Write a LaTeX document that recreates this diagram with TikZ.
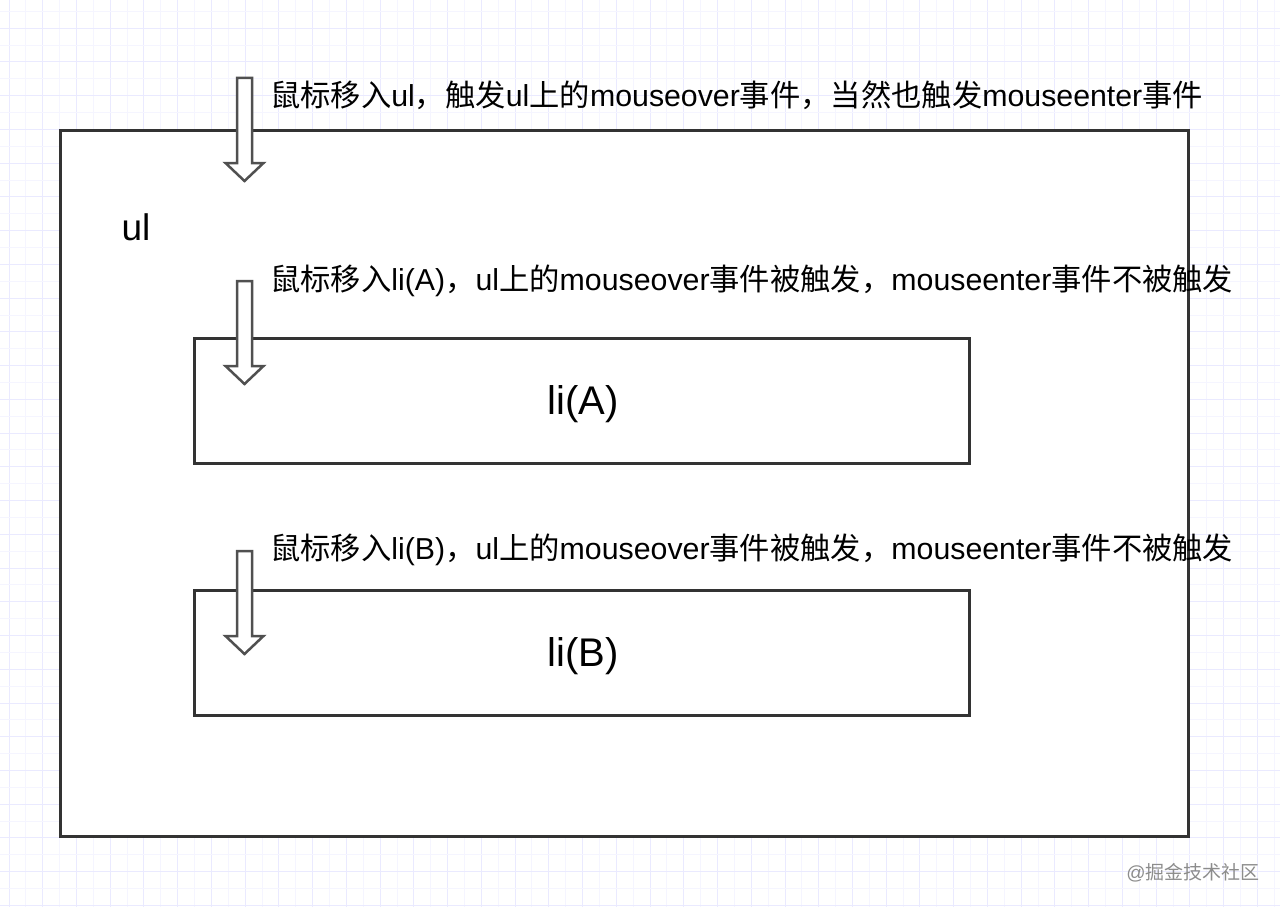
\documentclass[tikz,border=0pt]{standalone}
\usepackage{fontspec}
\setmainfont{Liberation Sans}
\newfontfamily\zhfont{Noto Sans CJK SC}
\newcommand{\zh}[1]{{\zhfont #1}}
\usepackage{tikz}

\definecolor{gridminor}{HTML}{F5F5FF}
\definecolor{gridmajor}{HTML}{EAEAFF}
\definecolor{boxline}{HTML}{333333}
\definecolor{arrowline}{HTML}{505050}
\definecolor{markgray}{HTML}{8C8C8C}

\tikzset{
    box/.style={draw=boxline, line width=3pt, fill=white, inner sep=0pt},
    boxtext/.style={inner sep=0pt, font=\fontsize{40}{44}\selectfont},
    note/.style={anchor=west, inner sep=0pt, font=\fontsize{30.3}{35}\selectfont},
    hollowarrow/.style={draw=arrowline, line width=2.5pt, fill=white, line join=miter}
}

\begin{document}
\begin{tikzpicture}[x=1pt,y=-1pt]
    \useasboundingbox (0,0) rectangle (1280,907);
    \fill[white] (0,0) rectangle (1280,907);

    % background grid
    \foreach \k in {0,...,37} {
        \draw[gridminor, line width=1pt] ({25.87+33.74*\k},0) -- ({25.87+33.74*\k},907);
        \draw[gridmajor, line width=1pt] ({9+33.74*\k},0) -- ({9+33.74*\k},907);
    }
    \foreach \k in {0,...,26} {
        \draw[gridminor, line width=1pt] (0,{11.35+33.74*\k}) -- (1280,{11.35+33.74*\k});
        \draw[gridmajor, line width=1pt] (0,{28.2+33.74*\k}) -- (1280,{28.2+33.74*\k});
    }

    % boxes
    \node[box, minimum width=1128pt, minimum height=706pt] (ulbox) at (624,483) {};
    \node[font=\fontsize{37}{40}\selectfont, inner sep=0pt] (ultext) at (136,227) {ul};
    \node[box, minimum width=775pt, minimum height=125pt] (liA) at (581.5,400.5) {};
    \node[box, minimum width=775pt, minimum height=125pt] (liB) at (581.5,652.5) {};
    \node[boxtext] (liAtext) at (583,404) {li(A)};
    \node[boxtext] (liBtext) at (583,656) {li(B)};

    % arrows
    \foreach \t in {78,281,551} {
        \draw[hollowarrow] (237,\t) -- (252,\t) -- (252,{\t+85}) -- (263.5,{\t+85})
            -- (244.5,{\t+103}) -- (225.5,{\t+85}) -- (237,{\t+85}) -- cycle;
    }

    % labels
    \node[note] (noteul) at (270,95) {\zh{鼠标移入}ul\zh{，触发}ul\zh{上的}mouseover\zh{事件，当然也触发}mouseenter\zh{事件}};
    \node[note] (noteA) at (270,281) {\zh{鼠标移入}li(A)\zh{，}ul\zh{上的}mouseover\zh{事件被触发，}mouseenter\zh{事件不被触发}};
    \node[note] (noteB) at (270,550) {\zh{鼠标移入}li(B)\zh{，}ul\zh{上的}mouseover\zh{事件被触发，}mouseenter\zh{事件不被触发}};

    \node[text=markgray, font=\fontsize{19}{22}\selectfont, inner sep=0pt] (mark) at (1193,873) {@\zh{掘金技术社区}};
\end{tikzpicture}
\end{document}
